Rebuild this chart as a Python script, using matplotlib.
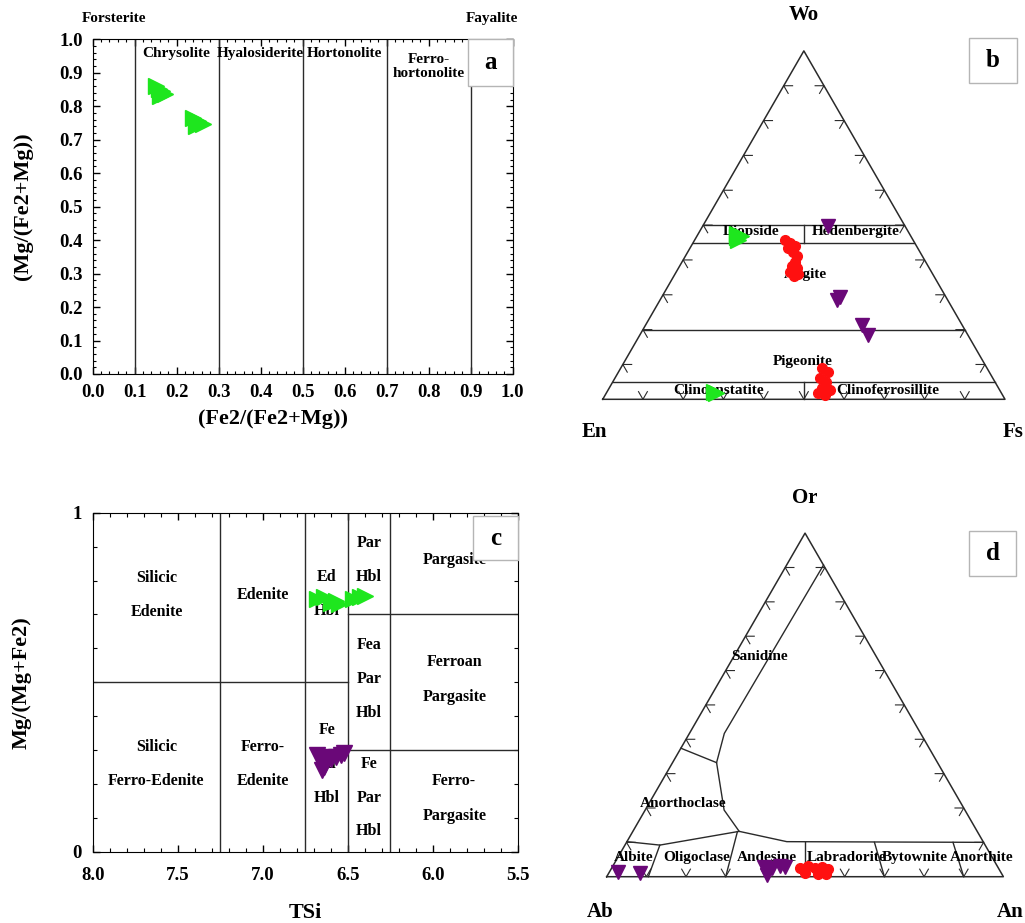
import numpy as np
import matplotlib.pyplot as plt
from matplotlib.patches import Rectangle
from matplotlib.ticker import MultipleLocator, FormatStrFormatter

plt.rcParams['font.family'] = ['Liberation Serif', 'DejaVu Serif']
plt.rcParams['font.weight'] = 'bold'
plt.rcParams['axes.labelweight'] = 'bold'

GREEN = '#1ee61e'
PURPLE = '#6a0878'
RED = '#ff1010'
LINE = '#2a2a2a'

# ---- a: olivine ----
ol_fe = [0.150, 0.158, 0.165, 0.172, 0.160, 0.240, 0.250, 0.262, 0.245]
ol_mg = [0.862, 0.852, 0.845, 0.836, 0.830, 0.765, 0.757, 0.748, 0.740]
ol_bounds = [0.1, 0.3, 0.5, 0.7, 0.9]
ol_names = ['Chrysolite', 'Hyalosiderite', 'Hortonolite', 'Ferro-\nhortonolite']

# ---- b: pyroxene, Wo and Fs in % ----
px_green_wo = [47.5, 46.5, 46.8, 45.8, 1.8, 2.2]
px_green_fs = [9.6, 10.2, 11.0, 10.8, 27.3, 26.5]
px_red_wo = [45.7, 44.9, 44.0, 43.4, 42.3, 41.1, 39.4, 37.7, 38.3, 36.5, 35.4, 36.0,
             9.0, 7.8, 6.1, 5.0, 3.2, 2.7, 1.2, 1.8]
px_red_fs = [22.5, 24.1, 25.8, 24.4, 26.2, 27.7, 28.1, 29.5, 27.9, 28.3, 29.9, 30.6,
             50.0, 52.1, 51.0, 53.0, 52.9, 55.2, 54.6, 52.6]
px_purple_wo = [49.8, 28.5, 29.5, 21.3, 18.5]
px_purple_fs = [31.1, 43.9, 44.3, 53.7, 56.8]
px_levels = [50, 45, 20, 5]

# ---- c: amphibole ----
am_green_tsi = [6.68, 6.64, 6.60, 6.57, 6.55, 6.47, 6.43, 6.40]
am_green_mg = [0.745, 0.750, 0.735, 0.740, 0.730, 0.745, 0.750, 0.755]
am_purple_tsi = [6.68, 6.66, 6.64, 6.62, 6.60, 6.57, 6.54, 6.52, 6.65]
am_purple_mg = [0.285, 0.270, 0.250, 0.280, 0.275, 0.280, 0.285, 0.290, 0.240]

# ---- d: feldspar, An and Or in % ----
fd_purple_an = [2.2, 7.9, 38.3, 40.4, 42.1, 43.6, 40.1]
fd_purple_or = [1.4, 1.0, 2.7, 2.5, 3.1, 2.7, 0.5]
fd_red_an = [47.5, 49.2, 51.2, 52.9, 54.7, 49.5, 52.9, 54.9]
fd_red_or = [2.5, 3.1, 2.5, 2.8, 2.2, 1.1, 0.8, 0.8]

san_an, san_or = [9.3, 8.8, 11.1], [90.7, 41.7, 33.2]
ano_an, ano_or = [0, 11.1, 19.9, 26.8], [37.4, 33.2, 19.4, 13.2]
plag_an, plag_or = [0, 8.8, 26.8, 40.3, 90.0], [10.2, 9.2, 13.2, 10.2, 10.0]
plag_div = [(10.5, 8.8, 9.2), (30, 26.4, 13.1), (50, 45, 10), (70, 62.5, 10), (90, 82.3, 10)]

H = np.sqrt(3) / 2


def tern(right, top):
    r = np.asarray(right, dtype=float) / 100
    t = np.asarray(top, dtype=float) / 100
    return r + t / 2, t * H


def frame(ax):
    x, y = tern([0, 100, 0, 0], [0, 0, 100, 0])
    ax.plot(x, y, color=LINE, lw=1.1)
    l = 0.022
    for t in np.arange(0.1, 0.95, 0.1):
        ax.plot([t - l / 2, t, t + l / 2], [l * H, 0, l * H], color=LINE, lw=0.8)
        px, py = t / 2, t * H
        ax.plot([px + l, px, px + l / 2], [py, py, py - l * H], color=LINE, lw=0.8)
        px, py = 1 - t / 2, t * H
        ax.plot([px - l, px, px - l / 2], [py, py, py - l * H], color=LINE, lw=0.8)


def letter_box(ax, x0, y0, w, h, s, tr):
    ax.add_patch(Rectangle((x0, y0), w, h, transform=tr, facecolor='white',
                           edgecolor='#b5b5b5', lw=1, zorder=6, clip_on=False))
    ax.text(x0 + w / 2, y0 + h / 2, s, transform=tr, ha='center', va='center',
            fontsize=18, zorder=7)


fig = plt.figure(figsize=(10.25, 9.23), dpi=100)

# ================= a =================
ax = fig.add_axes([0.0904, 0.5948, 0.4098, 0.3626])
ax.set_xlim(0, 1)
ax.set_ylim(0, 1)
for axis in (ax.xaxis, ax.yaxis):
    axis.set_major_locator(MultipleLocator(0.1))
    axis.set_minor_locator(MultipleLocator(0.02))
    axis.set_major_formatter(FormatStrFormatter('%.1f'))
ax.tick_params(which='both', direction='in', top=True, right=True, labelsize=13.5, pad=7)
ax.tick_params(which='major', length=5, width=1)
ax.tick_params(which='minor', length=2.5, width=0.8)
for b in ol_bounds:
    ax.axvline(b, color=LINE, lw=1)
for i, name in enumerate(ol_names):
    xc = (ol_bounds[i] + ol_bounds[i + 1]) / 2
    yc = 0.958 if '\n' not in name else 0.92
    ax.text(xc, yc, name, ha='center', va='center', fontsize=11, linespacing=1.1)
ax.text(0.05, 1.063, 'Forsterite', ha='center', va='center', fontsize=11)
ax.text(0.95, 1.063, 'Fayalite', ha='center', va='center', fontsize=11)
ax.plot(ol_fe, ol_mg, '>', color=GREEN, ms=12, mec=GREEN, zorder=4)
ax.text(0.43, -0.135, '(Fe2/(Fe2+Mg))', transform=ax.transAxes, ha='center', va='center', fontsize=16)
ax.text(-0.166, 0.5, '(Mg/(Fe2+Mg))', transform=ax.transAxes, ha='center', va='center',
        rotation=90, fontsize=16)
letter_box(ax, 0.893, 0.862, 0.107, 0.138, 'a', ax.transAxes)

# ================= b =================
ax = fig.add_axes([0.5561, 0.5016, 0.4439, 0.4984])
ax.set_xlim(-0.0813, 1.0497)
ax.set_ylim(-0.1509, 0.9925)
ax.axis('off')
frame(ax)
for w in px_levels:
    x, y = tern([0, 100 - w], [w, w])
    ax.plot(x, y, color=LINE, lw=1)
x, y = tern([25, 27.5], [50, 45])
ax.plot(x, y, color=LINE, lw=1)
x, y = tern([47.5, 50], [5, 0])
ax.plot(x, y, color=LINE, lw=1)
for s, xx, yy in [('Diopside', 0.370, 0.4166), ('Hedenbergite', 0.630, 0.4166),
                  ('Augite', 0.503, 0.309), ('Pigeonite', 0.498, 0.0935),
                  ('Clinoenstatite', 0.287, 0.0231), ('Clinoferrosillite', 0.709, 0.0231)]:
    ax.text(xx, yy, s, ha='center', va='center', fontsize=11, zorder=3)
x, y = tern(px_green_fs, px_green_wo)
ax.plot(x, y, '>', color=GREEN, mec=GREEN, ms=11, zorder=4)
x, y = tern(px_red_fs, px_red_wo)
ax.plot(x, y, 'o', color=RED, mec=RED, ms=7, zorder=4)
x, y = tern(px_purple_fs, px_purple_wo)
ax.plot(x, y, 'v', color=PURPLE, mec=PURPLE, ms=10.5, zorder=4)
ax.text(0.5, 0.955, 'Wo', ha='center', va='center', fontsize=15)
ax.text(-0.02, -0.081, 'En', ha='center', va='center', fontsize=15)
ax.text(1.02, -0.081, 'Fs', ha='center', va='center', fontsize=15)
letter_box(ax, 0.9105, 0.786, 0.1195, 0.112, 'b', ax.transData)

# ================= c =================
ax = fig.add_axes([0.0904, 0.0772, 0.415, 0.3673])
ax.set_xlim(8.0, 5.5)
ax.set_ylim(0, 1)
ax.xaxis.set_major_locator(MultipleLocator(0.5))
ax.xaxis.set_minor_locator(MultipleLocator(0.1))
ax.xaxis.set_major_formatter(FormatStrFormatter('%.1f'))
ax.yaxis.set_major_locator(MultipleLocator(1))
ax.yaxis.set_minor_locator(MultipleLocator(0.1))
ax.tick_params(which='both', direction='in', top=True, right=True, labelsize=13.5)
ax.tick_params(axis='x', pad=11)
ax.tick_params(axis='y', pad=8)
ax.tick_params(which='major', length=5, width=1)
ax.tick_params(which='minor', length=3, width=0.8)
for v in [7.25, 6.75, 6.5, 6.25]:
    ax.axvline(v, color=LINE, lw=1)
ax.plot([8.0, 6.5], [0.5, 0.5], color=LINE, lw=1)
ax.plot([6.5, 5.5], [0.7, 0.7], color=LINE, lw=1)
ax.plot([6.5, 5.5], [0.3, 0.3], color=LINE, lw=1)
c_labels = [('Silicic', 7.625, 0.808), ('Edenite', 7.625, 0.708), ('Edenite', 7.0, 0.756),
            ('Ed', 6.625, 0.81), ('Hbl', 6.625, 0.71), ('Par', 6.375, 0.91),
            ('Hbl', 6.375, 0.81), ('Pargasite', 5.875, 0.86), ('Fea', 6.375, 0.61),
            ('Par', 6.375, 0.51), ('Hbl', 6.375, 0.41), ('Ferroan', 5.875, 0.56),
            ('Pargasite', 5.875, 0.455), ('Silicic', 7.625, 0.31),
            ('Ferro-Edenite', 7.625, 0.21), ('Ferro-', 7.0, 0.31), ('Edenite', 7.0, 0.21),
            ('Fe', 6.625, 0.36), ('Ed', 6.625, 0.26), ('Hbl', 6.625, 0.16),
            ('Fe', 6.375, 0.26), ('Par', 6.375, 0.16), ('Hbl', 6.375, 0.06),
            ('Ferro-', 5.875, 0.21), ('Pargasite', 5.875, 0.106)]
for s, xx, yy in c_labels:
    ax.text(xx, yy, s, ha='center', va='center', fontsize=11.5, zorder=3)
ax.plot(am_green_tsi, am_green_mg, '>', color=GREEN, mec=GREEN, ms=12, zorder=4)
ax.plot(am_purple_tsi, am_purple_mg, 'v', color=PURPLE, mec=PURPLE, ms=11, zorder=4)
ax.text(0.499, -0.181, 'TSi', transform=ax.transAxes, ha='center', va='center', fontsize=16)
ax.text(-0.167, 0.498, 'Mg/(Mg+Fe2)', transform=ax.transAxes, ha='center', va='center',
        rotation=90, fontsize=16)
letter_box(ax, 0.895, 0.86, 0.105, 0.13, 'c', ax.transAxes)

# ================= d =================
ax = fig.add_axes([0.5561, 0.0, 0.4439, 0.4908])
ax.set_xlim(-0.0925, 1.0545)
ax.set_ylim(-0.1167, 1.0252)
ax.axis('off')
frame(ax)
for a_, o_ in [(san_an, san_or), (ano_an, ano_or), (plag_an, plag_or)]:
    x, y = tern(a_, o_)
    ax.plot(x, y, color=LINE, lw=1)
for a0, a1, o1 in plag_div:
    x, y = tern([a0, a1], [0, o1])
    ax.plot(x, y, color=LINE, lw=1)
for s, xx, yy in [('Sanidine', 0.386, 0.556), ('Anorthoclase', 0.192, 0.185),
                  ('Albite', 0.067, 0.049), ('Oligoclase', 0.227, 0.049),
                  ('Andesine', 0.403, 0.049), ('Labradorite', 0.605, 0.049),
                  ('Bytownite', 0.777, 0.049), ('Anorthite', 0.945, 0.049)]:
    ax.text(xx, yy, s, ha='center', va='center', fontsize=11, zorder=3)
x, y = tern(fd_purple_an, fd_purple_or)
ax.plot(x, y, 'v', color=PURPLE, mec=PURPLE, ms=10.5, zorder=4)
x, y = tern(fd_red_an, fd_red_or)
ax.plot(x, y, 'o', color=RED, mec=RED, ms=7, zorder=4)
ax.text(0.5, 0.954, 'Or', ha='center', va='center', fontsize=15)
ax.text(-0.017, -0.088, 'Ab', ha='center', va='center', fontsize=15)
ax.text(1.017, -0.088, 'An', ha='center', va='center', fontsize=15)
letter_box(ax, 0.914, 0.758, 0.118, 0.113, 'd', ax.transData)

fig.savefig('out.png', dpi=100, facecolor='white')
